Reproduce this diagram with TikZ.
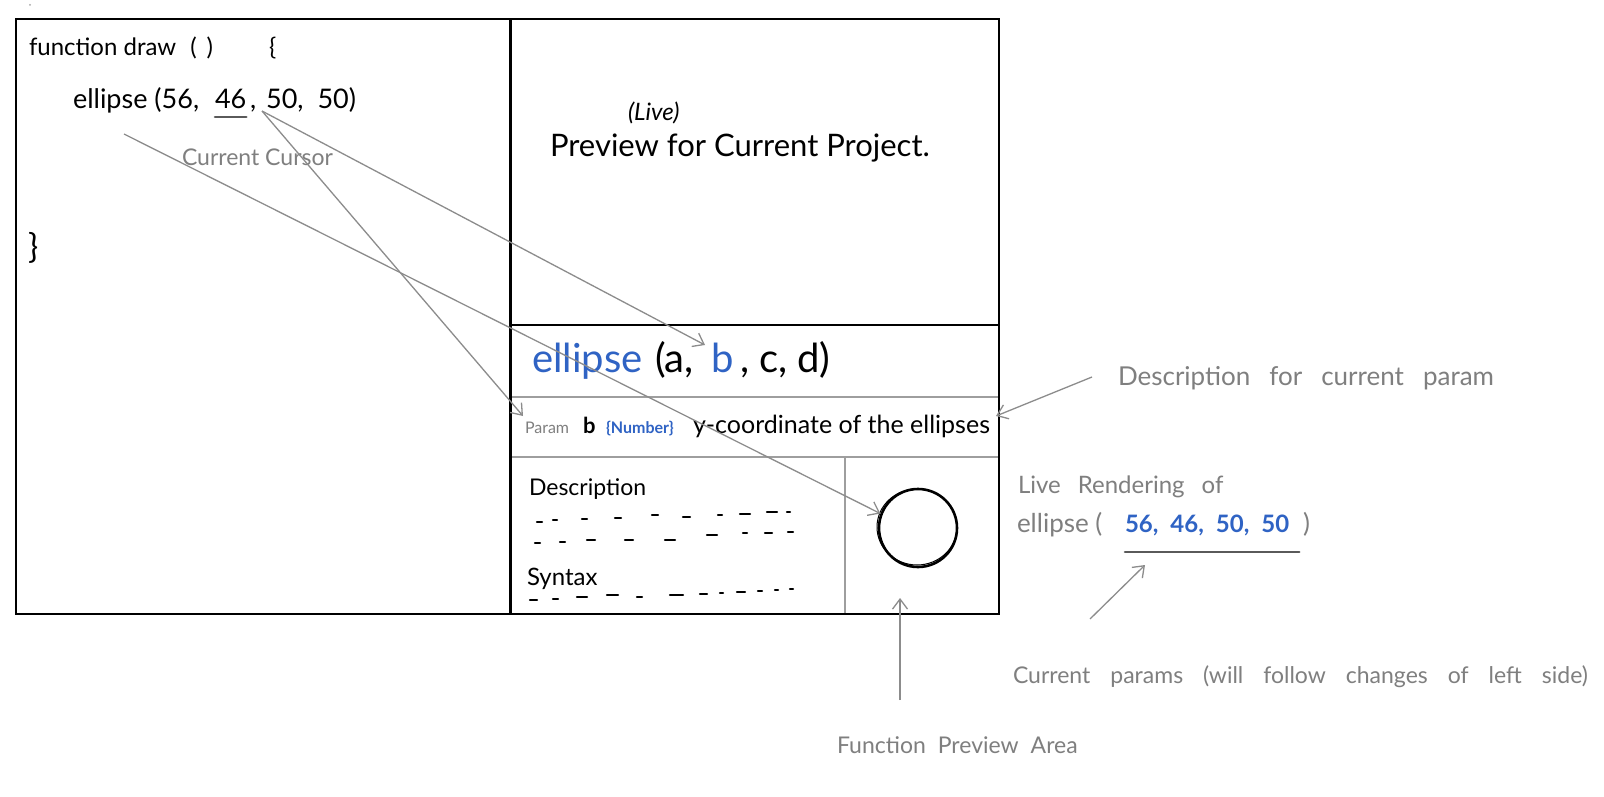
\documentclass[tikz,border=0pt]{standalone}
\usepackage{fontspec}
\setmainfont{Lato}
\usetikzlibrary{arrows.meta}
\definecolor{fnblue}{HTML}{2F63C4}
\definecolor{notegray}{HTML}{7F7F7F}
\definecolor{linegray}{HTML}{8C8C8C}
\definecolor{divgray}{HTML}{9E9E9E}
\definecolor{ulgray}{HTML}{5A5A5A}
\newcommand\wordgap[1]{\spaceskip=#1\relax}
\begin{document}
\begin{tikzpicture}[x=1pt,y=-1pt,
  panel/.style={draw=black, line width=2pt, anchor=north west, inner sep=0pt, outer sep=0pt},
  txt/.style={anchor=base west, inner sep=0pt, outer sep=0pt, text=black},
  note/.style={anchor=base west, inner sep=0pt, outer sep=0pt, text=notegray},
  conn/.style={draw=linegray, line width=1.3pt, -{Straight Barb[length=10pt,width=15pt]}},
  divider/.style={draw=divgray, line width=1.5pt},
  scrib/.style={line width=2.4pt, line cap=round, draw=black},
  underl/.style={line width=2.6pt, line cap=round, draw=ulgray}]

\useasboundingbox (0,0) rectangle (1604,797);
\fill[white] (0,0) rectangle (1604,797);
\fill[gray!70] (30,5) circle (1);

% panels
\node[panel, minimum width=494pt, minimum height=595pt] (code) at (16,19) {};
\node[panel, minimum width=488pt, minimum height=306pt] (preview) at (511,19) {};
\node[panel, minimum width=488pt, minimum height=289pt] (fnpanel) at (511,325) {};
\draw[divider] (512,397) -- (998,397);
\draw[divider] (512,457) -- (998,457);
\draw[divider] (845,457) -- (845,613);

% code
\node[txt, font=\fontsize{24}{28}\selectfont] (codeL1) at (29,56) {function draw\hspace{14pt}(\hspace{10pt})\hspace{56pt}\{};
\node[txt, font=\fontsize{27}{32}\selectfont] (codeA) at (73,109) {ellipse (56,};
\node[txt, font=\fontsize{27}{32}\selectfont] (code46) at (215,109) {46};
\node[txt, font=\fontsize{27}{32}\selectfont] (codeB) at (250,109) {,\hspace{10pt}50,\hspace{14pt}50)};
\draw[underl] ([yshift=-8pt]code46.base west) -- ([yshift=-8pt]code46.base east);
\node[txt, font=\fontsize{34}{40}\selectfont] (codeEnd) at (28,258) {\}};
\node[note, font=\fontsize{23}{28}\selectfont] (cursorLbl) at (182,165) {Current Cursor};

% preview
\node[txt, font=\fontsize{24}{28}\selectfont\itshape] (pvLive) at (628,121) {(Live)};
\node[txt, font=\fontsize{31}{36}\selectfont] (pvTitle) at (550,157) {Preview for Current Project.};

% function row
\node[txt, font=\fontsize{40}{46}\selectfont, text=fnblue] (rowEll) at (532,372) {ellipse};
\node[txt, font=\fontsize{40}{46}\selectfont] (rowA) at (655,372) {(a,};
\node[txt, font=\fontsize{40}{46}\selectfont, text=fnblue] (rowB) at (711,372) {b};
\node[txt, font=\fontsize{40}{46}\selectfont] (rowC) at (740,372) {,\hspace{10pt}c,\hspace{10pt}d)};

% param row
\node[note, font=\fontsize{16}{19}\selectfont] (param) at (525,433) {Param};
\node[txt, font=\bfseries\fontsize{22}{26}\selectfont] (paramB) at (583,433) {b};
\node[txt, font=\bfseries\fontsize{16}{19}\selectfont, text=fnblue] (ptype) at (606,433) {\{Number\}};
\node[txt, font=\fontsize{25}{30}\selectfont] (pdesc) at (693,433) {y-coordinate of the ellipses};

% details
\node[txt, font=\fontsize{23}{28}\selectfont] (descT) at (529,495) {Description};
\node[txt, font=\fontsize{24}{28}\selectfont] (syntaxT) at (527,585) {Syntax};
\foreach \xa/\xb/\yy in {537/542/522, 553/557/520, 582/587/519, 615/621/518, 652/658/515, 683/690/517, 718/722/515, 740/750/514, 767/777/512, 787/790/512,
  535/540/543, 560/565/542, 587/595/540, 625/633/540, 665/675/540, 707/717/535, 743/747/533, 765/772/533, 788/793/532,
  530/537/600, 553/558/599, 577/587/597, 607/618/595, 637/642/597, 670/683/595, 700/707/594, 720/723/593, 737/745/592, 758/762/591, 775/778/590, 790/793/589}
  \draw[scrib] (\xa,\yy) -- (\xb,\yy);
\node[draw, circle, line width=2.6pt, minimum size=78pt, inner sep=0pt] (circ) at (918,528) {};
\draw[line width=1pt] (917,527) ellipse [x radius=40, y radius=38];

% annotations
\node[note, font=\fontsize{26}{30}\selectfont\wordgap{19pt}] (descAnn) at (1118,385) {Description for current param};
\node[note, font=\fontsize{24}{28}\selectfont\wordgap{17pt}] (liveAnn) at (1018,493) {Live Rendering of};
\node[note, font=\fontsize{26}{30}\selectfont] (lrA) at (1017,532) {ellipse (};
\node[txt, font=\bfseries\fontsize{24}{28}\selectfont\wordgap{12pt}, text=fnblue] (lrNums) at (1125,532) {56, 46, 50, 50};
\node[note, font=\fontsize{26}{30}\selectfont] (lrC) at (1303,532) {)};
\draw[underl] ([yshift=-20pt]lrNums.base west) -- ([xshift=10pt,yshift=-20pt]lrNums.base east);
\node[note, font=\fontsize{23}{28}\selectfont\wordgap{20pt}] (cpAnn) at (1013,683) {Current params (will follow changes of left side)};
\node[note, font=\fontsize{23}{28}\selectfont\wordgap{12pt}] (fpAnn) at (837,753) {Function Preview Area};

% connector ends
\coordinate (cursor) at (262,111);
\coordinate (ellTail) at (124,134);
\coordinate (bTip) at (705,345);
\coordinate (paramTip) at (523,416);
\coordinate (descTail) at (1092,377);
\coordinate (descTip) at (996,416);
\coordinate (cpTail) at (1090,619);
\coordinate (cpTip) at (1145,565);
\coordinate (fpTail) at (900,700);
\coordinate (fpTip) at (900,598);

\draw[conn] (ellTail) -- (circ.159);
\draw[conn] (cursor) -- (bTip);
\draw[conn] (cursor) -- (paramTip);
\draw[conn] (descTail) -- (descTip);
\draw[conn] (cpTail) -- (cpTip);
\draw[conn] (fpTail) -- (fpTip);
\end{tikzpicture}
\end{document}
